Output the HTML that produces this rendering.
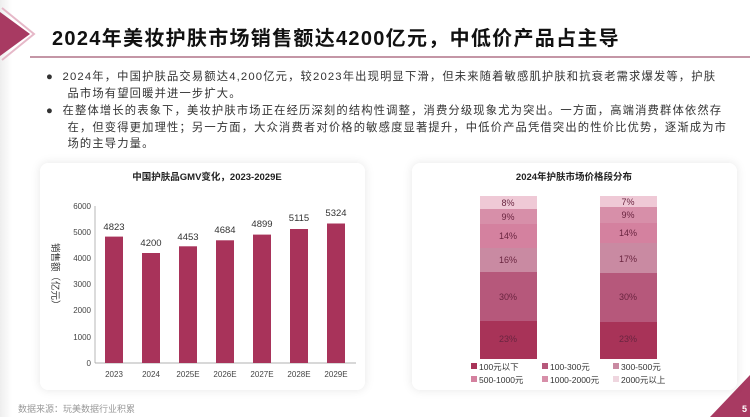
<!DOCTYPE html><html><head><meta charset="utf-8"><style>
*{margin:0;padding:0}body{width:750px;height:417px;background:#fff;position:relative;overflow:hidden;font-family:"Liberation Sans","Noto Sans CJK SC",sans-serif}
.a{position:absolute}
.t{font-size:11.3px;color:#333;letter-spacing:1.15px;line-height:16.5px;white-space:nowrap}
.card{position:absolute;background:#fff;border-radius:8px;box-shadow:0 0 10px rgba(0,0,0,0.1)}
</style></head><body>
<div class="a" style="left:0;top:0;width:12px;height:417px;background:linear-gradient(90deg,#eee,#fff)"></div>
<svg class="a" style="left:0;top:0" width="750" height="417">
<polygon points="0,12 30,34 0,56" fill="#a83a62"/>
<polyline points="2,8 34,34 2,60" fill="none" stroke="#e6b8c8" stroke-width="2"/>
<line x1="30" y1="57" x2="750" y2="57" stroke="#b07488" stroke-width="1.5"/>
<polygon points="750,375 750,417 710,417" fill="#a83a62"/>
<text x="742" y="412" font-size="9" fill="#fff" font-weight="bold" font-family="Liberation Sans">5</text>
</svg>
<div class="a" style="left:52px;top:22px;font-size:20px;font-weight:bold;color:#111;letter-spacing:1.3px">2024年美妆护肤市场销售额达4200亿元，中低价产品占主导</div>
<div class="a t" style="left:46px;top:69px">●&nbsp; 2024年，中国护肤品交易额达4,200亿元，较2023年出现明显下滑，但未来随着敏感肌护肤和抗衰老需求爆发等，护肤<br>&nbsp;&nbsp;&nbsp;&nbsp; 品市场有望回暖并进一步扩大。</div>
<div class="a t" style="left:46px;top:103px">●&nbsp; 在整体增长的表象下，美妆护肤市场正在经历深刻的结构性调整，消费分级现象尤为突出。一方面，高端消费群体依然存<br>&nbsp;&nbsp;&nbsp;&nbsp; 在，但变得更加理性；另一方面，大众消费者对价格的敏感度显著提升，中低价产品凭借突出的性价比优势，逐渐成为市<br>&nbsp;&nbsp;&nbsp;&nbsp; 场的主导力量。</div>
<div class="card" style="left:40px;top:163px;width:325px;height:227px"></div>
<div class="card" style="left:412px;top:163px;width:325px;height:227px"></div>
<div class="a" style="left:18px;top:402px;font-size:9px;color:#999">数据来源：玩美数据行业积累</div>
<svg class="a" style="left:0;top:0" width="750" height="417" font-family="Liberation Sans,Noto Sans CJK SC,sans-serif">
<text x="207" y="180" font-size="9.5" font-weight="bold" text-anchor="middle" fill="#222">中国护肤品GMV变化，2023-2029E</text>
<g font-size="8" fill="#444" text-anchor="end">
<text x="91" y="366">0</text><text x="91" y="340">1000</text><text x="91" y="313">2000</text><text x="91" y="287">3000</text><text x="91" y="261">4000</text><text x="91" y="235">5000</text><text x="91" y="209">6000</text></g>
<line x1="95" y1="206" x2="95" y2="363" stroke="#999" stroke-width="0.7"/>
<line x1="95" y1="363" x2="356" y2="363" stroke="#999" stroke-width="0.7"/>
<text font-size="9.5" fill="#333" transform="translate(52,243) rotate(90)">销售额（亿元）</text>
<g fill="#a8335a">
<rect x="105" y="236.6" width="18" height="126.4"/><rect x="142" y="253" width="18" height="110"/><rect x="179" y="246.3" width="18" height="116.7"/><rect x="216" y="240.3" width="18" height="122.7"/><rect x="253" y="234.6" width="18" height="128.4"/><rect x="290" y="229" width="18" height="134"/><rect x="327" y="223.5" width="18" height="139.5"/></g>
<g font-size="9.5" fill="#333" text-anchor="middle">
<text x="114" y="230">4823</text><text x="151" y="246">4200</text><text x="188" y="240">4453</text><text x="225" y="233">4684</text><text x="262" y="227">4899</text><text x="299" y="221">5115</text><text x="336" y="216">5324</text></g>
<g font-size="8" fill="#444" text-anchor="middle">
<text x="114" y="377">2023</text><text x="151" y="377">2024</text><text x="188" y="377">2025E</text><text x="225" y="377">2026E</text><text x="262" y="377">2027E</text><text x="299" y="377">2028E</text><text x="336" y="377">2029E</text></g>
<text x="574" y="180" font-size="9.5" font-weight="bold" text-anchor="middle" fill="#222">2024年护肤市场价格段分布</text>
<g>
<rect x="480" y="196" width="57" height="13" fill="#efc9d6"/><rect x="480" y="209" width="57" height="15" fill="#d78fa9"/><rect x="480" y="224" width="57" height="24" fill="#d4819f"/><rect x="480" y="248" width="57" height="24" fill="#c98aa2"/><rect x="480" y="272" width="57" height="49" fill="#b6587b"/><rect x="480" y="321" width="57" height="38" fill="#a83358"/>
<rect x="600" y="196" width="57" height="11" fill="#efc9d6"/><rect x="600" y="207" width="57" height="16" fill="#d78fa9"/><rect x="600" y="223" width="57" height="20" fill="#d4819f"/><rect x="600" y="243" width="57" height="30" fill="#c98aa2"/><rect x="600" y="273" width="57" height="49" fill="#b6587b"/><rect x="600" y="322" width="57" height="37" fill="#a83358"/></g>
<g font-size="9" fill="#6a2540" text-anchor="middle">
<text x="508" y="206">8%</text><text x="508" y="220">9%</text><text x="508" y="239">14%</text><text x="508" y="263">16%</text><text x="508" y="300">30%</text><text x="508" y="342">23%</text>
<text x="628" y="205">7%</text><text x="628" y="218">9%</text><text x="628" y="236">14%</text><text x="628" y="262">17%</text><text x="628" y="300">30%</text><text x="628" y="342">23%</text></g>
<g font-size="8.5" fill="#333">
<rect x="471" y="363" width="6" height="6" fill="#a83358"/><text x="479" y="370">100元以下</text>
<rect x="542" y="363" width="6" height="6" fill="#b6587b"/><text x="550" y="370">100-300元</text>
<rect x="613" y="363" width="6" height="6" fill="#c98aa2"/><text x="621" y="370">300-500元</text>
<rect x="471" y="376" width="6" height="6" fill="#d4819f"/><text x="479" y="383">500-1000元</text>
<rect x="542" y="376" width="6" height="6" fill="#d78fa9"/><text x="550" y="383">1000-2000元</text>
<rect x="613" y="376" width="6" height="6" fill="#efd6df"/><text x="621" y="383">2000元以上</text></g>
</svg>
</body></html>
